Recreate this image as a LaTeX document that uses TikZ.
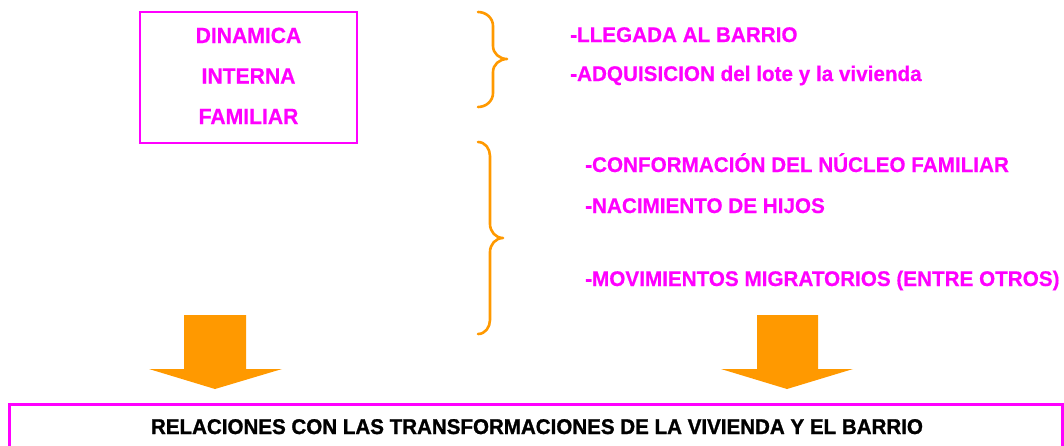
\documentclass[tikz,border=0pt]{standalone}
\usepackage{fontspec}
\setmainfont{Liberation Sans}[FakeStretch=0.96]
\newfontfamily\heavyfont{Liberation Sans}[FakeStretch=0.965, BoldFeatures={FakeBold=1.2}]
\newfontfamily\midfont{Liberation Sans}[FakeStretch=0.975, BoldFeatures={FakeBold=0.5}]
\newfontfamily\boxfont{Liberation Sans}[FakeStretch=0.96, BoldFeatures={FakeBold=0.5}]
\definecolor{mag}{HTML}{FF00FF}
\definecolor{orng}{HTML}{FF9900}
\begin{document}
\begin{tikzpicture}[x=1pt,y=-1pt,
  boxtxt/.style={inner sep=0pt, anchor=base, text=mag, font=\boxfont\fontsize{22}{26}\selectfont\bfseries},
  item/.style={inner sep=0pt, anchor=base west, text=mag, font=\midfont\fontsize{21.2}{25}\selectfont\bfseries},
  brace/.style={draw=orng, line width=2.6pt, line cap=round, line join=round},
  bigarrow/.style={fill=orng, draw=none}]
\useasboundingbox (0,0) rectangle (1064,445);
\fill[white] (0,0) rectangle (1064,445);

% title box
\draw[mag, line width=1.8pt] (140,12) rectangle (357,143);
\node[boxtxt] (t1) at (248.5,43) {DINAMICA};
\node[boxtxt] (t2) at (248.5,83.5) {INTERNA};
\node[boxtxt] (t3) at (248.5,124) {FAMILIAR};

% braces
\draw[brace] (478,12) to[out=0,in=90] (493,26) -- (493,46)
  to[out=-90,in=180] (507,59) to[out=180,in=90] (493,72) -- (493,93)
  to[out=-90,in=0] (478,107);
\draw[brace] (478,142) to[out=0,in=90] (490,156) -- (490,224)
  to[out=-90,in=180] (503,238) to[out=180,in=90] (490,252) -- (490,320)
  to[out=-90,in=0] (478,334);

% items
\node[item] (i1) at (570,42) {-LLEGADA AL BARRIO};
\node[item] (i2) at (570,81) {-ADQUISICION del lote y la vivienda};
\node[item] (i3) at (585,172) {-CONFORMACIÓN DEL NÚCLEO FAMILIAR};
\node[item] (i4) at (585,213) {-NACIMIENTO DE HIJOS};
\node[item] (i5) at (585,286) {-MOVIMIENTOS MIGRATORIOS (ENTRE OTROS)};

% arrows
\fill[bigarrow] (184,315) -- (246,315) -- (246,369) -- (282,369) -- (215,389)
  -- (149,369) -- (184,369) -- cycle;
\fill[bigarrow] (757,315) -- (818,315) -- (818,369) -- (853,369) -- (787,389)
  -- (721,369) -- (757,369) -- cycle;

% bottom box
\draw[mag, line width=3pt] (9,404) rectangle (1062.5,452);
\node[inner sep=0pt, anchor=base, text=black, font=\heavyfont\fontsize{21.3}{25}\selectfont\bfseries]
  (res) at (537,434) {RELACIONES CON LAS TRANSFORMACIONES DE LA VIVIENDA Y EL BARRIO};
\end{tikzpicture}
\end{document}
